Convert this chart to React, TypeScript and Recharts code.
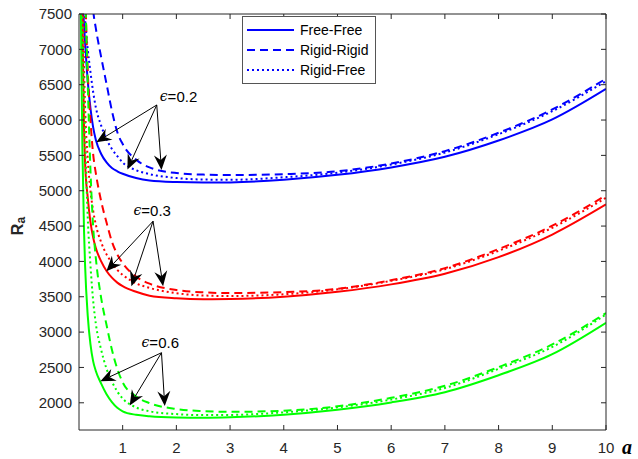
import React from 'react';
import { LineChart, Line, XAxis, YAxis, ReferenceLine, ReferenceDot } from 'recharts';

// wave number a
const aValues = [0.2, 0.22, 0.25, 0.28, 0.3, 0.35, 0.4, 0.45, 0.5, 0.6, 0.7, 0.8, 0.9, 1, 1.25, 1.5, 2, 2.5, 3, 4, 5, 6, 7, 8, 9, 10];

// eps = 0.2 (blue)
const ff02 = [10500, 9300, 7900, 7350, 7100, 6550, 6170, 5900, 5720, 5520, 5400, 5320, 5275, 5240, 5180, 5145, 5122, 5115, 5118, 5155, 5225, 5330, 5480, 5710, 6008, 6440];
const rr02 = [16000, 14500, 12500, 11000, 10200, 8900, 8100, 7560, 7300, 6890, 6510, 6130, 5830, 5660, 5440, 5330, 5250, 5228, 5222, 5235, 5275, 5385, 5560, 5820, 6150, 6585];
const rf02 = [11500, 10200, 8300, 7650, 7430, 7000, 6680, 6400, 6180, 5920, 5725, 5590, 5490, 5400, 5290, 5235, 5180, 5158, 5155, 5190, 5255, 5370, 5540, 5800, 6125, 6550];

// eps = 0.3 (red)
const ff03 = [11000, 9300, 7500, 5900, 5400, 4900, 4560, 4340, 4190, 4000, 3865, 3770, 3700, 3650, 3570, 3515, 3478, 3465, 3468, 3500, 3570, 3675, 3825, 4060, 4380, 4806];
const rr03 = [16000, 14000, 11500, 9200, 8100, 6700, 6000, 5520, 5250, 4850, 4550, 4280, 4100, 3975, 3785, 3685, 3595, 3562, 3552, 3565, 3612, 3735, 3905, 4175, 4505, 4935];
const rf03 = [12000, 10500, 8600, 6800, 6200, 5450, 5000, 4720, 4520, 4270, 4100, 3980, 3880, 3810, 3690, 3625, 3550, 3518, 3510, 3535, 3605, 3725, 3890, 4150, 4476, 4900];

// eps = 0.6 (green)
const ff06 = [9400, 7600, 5600, 4450, 3950, 3230, 2830, 2590, 2450, 2270, 2120, 2010, 1930, 1880, 1830, 1810, 1793, 1789, 1795, 1832, 1902, 2005, 2150, 2390, 2688, 3132];
const rr06 = [14000, 12000, 9800, 8500, 7900, 6500, 5300, 4500, 4050, 3480, 3100, 2750, 2480, 2290, 2090, 1995, 1912, 1882, 1872, 1888, 1950, 2070, 2240, 2505, 2825, 3270];
const rf06 = [11000, 9000, 7400, 6400, 5800, 4620, 3950, 3450, 3120, 2750, 2480, 2300, 2160, 2060, 1935, 1880, 1840, 1826, 1828, 1865, 1935, 2045, 2210, 2480, 2790, 3250];

const xTicks = [1, 2, 3, 4, 5, 6, 7, 8, 9, 10];
const yTicks = [2000, 2500, 3000, 3500, 4000, 4500, 5000, 5500, 6000, 6500, 7000, 7500];

// annotation: label position, arrow origin, arrow tips (a, Ra)
const epsLabels = ['0.2', '0.3', '0.6'];
const labelPos = [[2.04, 6333], [1.55, 4725], [1.70, 2854]];
const arrowFrom = [[1.635, 6213], [1.566, 4569], [1.723, 2708]];
const arrowTips = [
  [[0.51, 5687], [1.089, 5300], [1.723, 5293]],
  [[0.697, 3862], [1.163, 3650], [1.753, 3650]],
  [[0.585, 2306], [1.131, 1962], [1.784, 1953]],
];

const data = aValues.map((a, i) => ({
  a,
  ff02: ff02[i], rr02: rr02[i], rf02: rf02[i],
  ff03: ff03[i], rr03: rr03[i], rf03: rf03[i],
  ff06: ff06[i], rr06: rr06[i], rf06: rf06[i],
}));

const AXIS = '#262626';
const FONT = 'Liberation Sans, Arial, Helvetica, sans-serif';
const DASH = '8 5';
const DOT = '2 3';

const series = [
  { key: 'ff02', color: '#0000ff', dash: undefined },
  { key: 'rr02', color: '#0000ff', dash: DASH },
  { key: 'rf02', color: '#0000ff', dash: DOT },
  { key: 'ff03', color: '#ff0000', dash: undefined },
  { key: 'rr03', color: '#ff0000', dash: DASH },
  { key: 'rf03', color: '#ff0000', dash: DOT },
  { key: 'ff06', color: '#00ff00', dash: undefined },
  { key: 'rr06', color: '#00ff00', dash: DASH },
  { key: 'rf06', color: '#00ff00', dash: DOT },
];

const legendItems = [
  { name: 'Free-Free', dash: undefined },
  { name: 'Rigid-Rigid', dash: DASH },
  { name: 'Rigid-Free', dash: DOT },
];

// thin line with a notched (vback2 style) head
const Arrow = (props: any) => {
  const x1 = Number(props.x1), y1 = Number(props.y1), x2 = Number(props.x2), y2 = Number(props.y2);
  const dx = x2 - x1, dy = y2 - y1;
  const len = Math.hypot(dx, dy) || 1;
  const ux = dx / len, uy = dy / len;
  const nx = -uy, ny = ux;
  const L = 15, W = 6.5, N = 5;
  const bx = x2 - L * ux, by = y2 - L * uy;
  const mx = x2 - (L - N) * ux, my = y2 - (L - N) * uy;
  const pts = [[x2, y2], [bx + W * nx, by + W * ny], [mx, my], [bx - W * nx, by - W * ny]]
    .map(p => p.join(',')).join(' ');
  return (
    <g>
      <line x1={x1} y1={y1} x2={mx} y2={my} stroke="#000" strokeWidth={1} />
      <polygon points={pts} fill="#000" />
    </g>
  );
};

const LegendBox = () => (
  <div style={{
    position: 'absolute', left: 242, top: 16, border: '1px solid #555', background: '#fff',
    padding: '3px 6px 3px 4px', width: 122,
  }}>
    {legendItems.map(item => (
      <div key={item.name} style={{ display: 'flex', alignItems: 'center', height: 20 }}>
        <svg width={48} height={10} style={{ marginRight: 5 }}>
          <line x1={0} y1={5} x2={47} y2={5} stroke="#0000ff" strokeWidth={2} strokeDasharray={item.dash} />
        </svg>
        <span style={{ fontFamily: FONT, fontSize: 14, color: '#000' }}>{item.name}</span>
      </div>
    ))}
  </div>
);

const tickStyle = { fill: AXIS, fontSize: 15, fontFamily: FONT };

export default function App() {
  return (
    <div style={{ position: 'absolute', left: 0, top: 0, width: 638, height: 459, background: '#fff' }}>
      <LineChart width={638} height={459} data={data} margin={{ top: 13, right: 31, bottom: 0, left: 19 }}>
        <XAxis
          dataKey="a" type="number" domain={[0.187, 10]} ticks={xTicks} interval={0}
          allowDataOverflow height={29} tickSize={-5} tickMargin={17}
          stroke={AXIS} tick={tickStyle}
          label={{
            content: () => (
              <text x={627} y={454} textAnchor="middle" fontFamily="Liberation Serif, Times New Roman, serif"
                fontStyle="italic" fontWeight="bold" fontSize={20} fill="#000">a</text>
            ),
          }}
        />
        <XAxis
          xAxisId="top" orientation="top" dataKey="a" type="number" domain={[0.187, 10]} ticks={xTicks}
          interval={0} allowDataOverflow height={1} tickSize={-5} stroke={AXIS} tick={() => <g />}
        />
        <YAxis
          type="number" domain={[1615, 7500]} ticks={yTicks} interval={0} allowDataOverflow
          width={60} tickSize={-5} tickMargin={12} stroke={AXIS} tick={tickStyle}
          label={{
            content: () => (
              <text x={17} y={226} transform="rotate(-90 17 226)" textAnchor="middle"
                dominantBaseline="central" fontFamily={FONT} fontWeight="bold" fontSize={16} fill={AXIS}>
                R<tspan fontSize={12} dy={4}>a</tspan>
              </text>
            ),
          }}
        />
        <YAxis
          yAxisId="right" orientation="right" type="number" domain={[1615, 7500]} ticks={yTicks}
          interval={0} allowDataOverflow width={1} tickSize={-5} stroke={AXIS} tick={() => <g />}
        />
        {series.map(s => (
          <Line
            key={s.key} dataKey={s.key} type="monotone" stroke={s.color} strokeWidth={2}
            strokeDasharray={s.dash} dot={false} activeDot={false} isAnimationActive={false}
          />
        ))}
        {arrowTips.map((tips, g) =>
          tips.map((tip, k) => (
            <ReferenceLine
              key={`arr-${g}-${k}`}
              segment={[{ x: arrowFrom[g][0], y: arrowFrom[g][1] }, { x: tip[0], y: tip[1] }]}
              ifOverflow="visible"
              shape={Arrow}
            />
          ))
        )}
        {epsLabels.map((lab, g) => (
          <ReferenceDot
            key={`lab-${g}`} x={labelPos[g][0]} y={labelPos[g][1]} r={0} ifOverflow="visible"
            shape={(p: any) => (
              <text x={p.cx} y={p.cy} textAnchor="middle" dominantBaseline="central" fontFamily={FONT} fontSize={15} fill="#000">
                <tspan fontFamily="DejaVu Serif, serif" fontStyle="italic" fontSize={14}>ϵ</tspan>={lab}
              </text>
            )}
          />
        ))}
      </LineChart>
      <LegendBox />
    </div>
  );
}
